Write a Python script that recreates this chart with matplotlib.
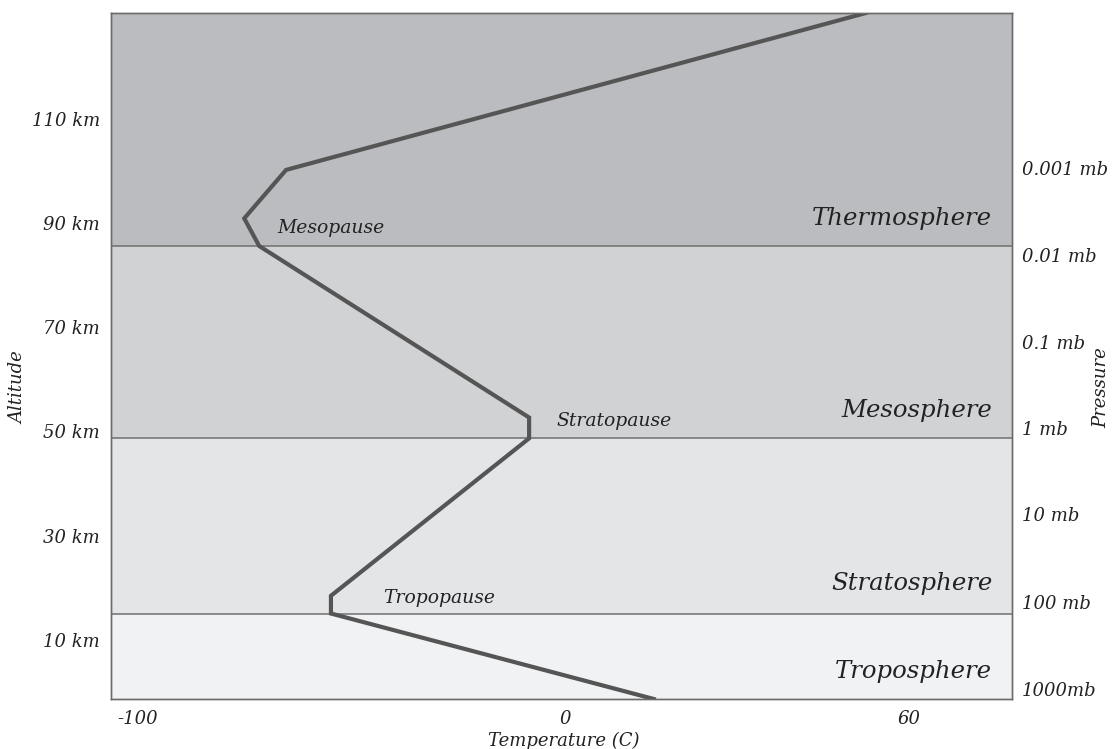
import numpy as np
import matplotlib
matplotlib.use("Agg")
import matplotlib.pyplot as plt
from matplotlib import transforms

# ---- data ----
temp_c = [15.5, -54.8, -54.8, -8.4, -8.4, -71.6, -75.1, -65.3, 52.5]
alt_km = [0.0, 16.4, 19.8, 50.0, 54.0, 86.9, 92.2, 101.5, 131.6]

layer_names = ["Troposphere", "Stratosphere", "Mesosphere", "Thermosphere"]
layer_bottom = [0.0, 16.4, 50.0, 86.9]
layer_top = [16.4, 50.0, 86.9, 131.6]
layer_colors = ["#f1f2f4", "#e4e5e7", "#d1d2d4", "#bbbcc0"]
layer_label_alt = [5.2, 22.2, 55.4, 92.1]

pause_names = ["Tropopause", "Stratopause", "Mesopause"]
pause_temp = [-42.6, -1.9, -67.4]
pause_alt = [19.4, 53.4, 90.4]

alt_ticks = [10, 30, 50, 70, 90, 110]
alt_ticklabels = ["10 km", "30 km", "50 km", "70 km", "90 km", "110 km"]

pressure_labels = ["1000mb", "100 mb", "10 mb", "1 mb", "0.1 mb", "0.01 mb", "0.001 mb"]
pressure_alt = [0.6, 17.2, 34.1, 50.6, 67.2, 83.8, 100.6]

temp_ticks = [-100, 0, 60]
temp_ticklabels = ["-100", "0", "60"]

# ---- figure ----
plt.rcParams['font.family'] = ['DejaVu Serif']
plt.rcParams['font.style'] = 'italic'

fig = plt.figure(figsize=(11.14, 7.49), dpi=100)
ax = fig.add_axes([111/1114, 50/749, 901/1114, 686/749])

# piecewise-linear temperature scale (different spacing below / above 0)
ratio = 5.73 / 4.27
def fwd(t):
    t = np.asarray(t, dtype=float)
    return np.where(t < 0, t, t * ratio)
def inv(u):
    u = np.asarray(u, dtype=float)
    return np.where(u < 0, u, u / ratio)
ax.set_xscale('function', functions=(fwd, inv))

ax.set_xlim(-106.3, 78.0)
ax.set_ylim(0, 131.6)

for b, t, c in zip(layer_bottom, layer_top, layer_colors):
    ax.axhspan(b, t, color=c, lw=0, zorder=0)
for b in layer_bottom[1:]:
    ax.axhline(b, color="#707070", lw=1.1, zorder=1)

ax.plot(temp_c, alt_km, color="#555555", lw=3.0, solid_joinstyle='miter',
        zorder=3, clip_on=True)

tr = transforms.blended_transform_factory(ax.transAxes, ax.transData)
for name, y in zip(layer_names, layer_label_alt):
    ax.text(0.978, y, name, transform=tr, ha='right', va='center',
            fontsize=17.6, color="#222222", style='italic', zorder=4)

for name, x, y in zip(pause_names, pause_temp, pause_alt):
    ax.text(x, y, name, ha='left', va='center', fontsize=13.5,
            color="#222222", style='italic', zorder=4)

ax.set_yticks(alt_ticks)
ax.set_yticklabels(alt_ticklabels)
for lab in ax.get_yticklabels():
    lab.set_verticalalignment('baseline')
ax.set_xticks(temp_ticks)
ax.set_xticklabels(temp_ticklabels)
ax.tick_params(axis='both', length=0, labelsize=13, colors="#222222")
ax.tick_params(axis='y', pad=8)
ax.tick_params(axis='x', pad=8)

ax2 = ax.twinx()
ax2.set_ylim(ax.get_ylim())
ax2.set_yticks(pressure_alt)
ax2.set_yticklabels(pressure_labels)
for lab in ax2.get_yticklabels():
    lab.set_verticalalignment('baseline')
ax2.tick_params(axis='y', length=0, labelsize=13, colors="#222222", pad=7)

for a in (ax, ax2):
    for s in a.spines.values():
        s.set_color("#6b6b6b")
        s.set_linewidth(1.0)

fig.text(18/1114, 1 - 388/749, "Altitude", rotation=90, ha='center',
         va='center', fontsize=13, color="#222222", style='italic')
fig.text(1101/1114, 1 - 388/749, "Pressure", rotation=90, ha='center',
         va='center', fontsize=13, color="#222222", style='italic')
fig.text(564/1114, 1 - 741/749, "Temperature (C)", ha='center',
         va='center', fontsize=13, color="#222222", style='italic')

fig.savefig("out.png", dpi=100, facecolor='white')
